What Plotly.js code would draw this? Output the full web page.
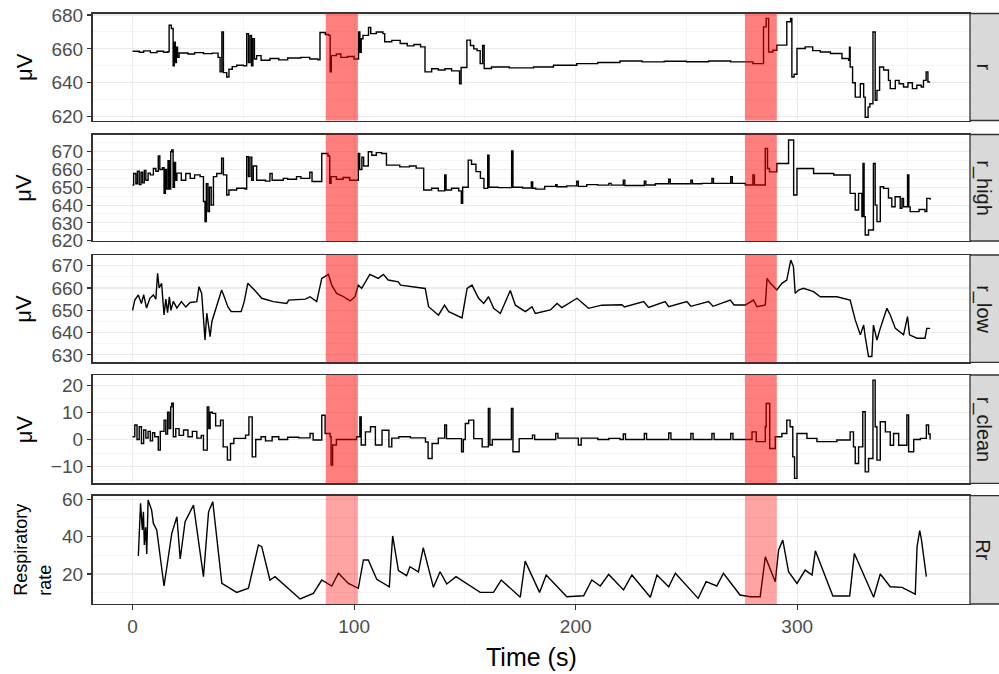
<!DOCTYPE html>
<html>
<head>
<meta charset="utf-8">
<script src="https://cdn.plot.ly/plotly-3.0.1.min.js"></script>
<style>html,body{margin:0;padding:0;background:#fff;}#chart{width:999px;height:674px;}</style>
</head>
<body>
<div id="chart"></div>
<script>
// ---------------- DATA ----------------
const facetLabels = ["r", "r_high", "r_low", "r_clean", "Rr"];
const xTickVals = [0, 100, 200, 300];
const shadeStart = [87.2, 276.4];
const shadeEnd = [101.7, 290.8];

const tR = [0,3,5,8,11,14,16,16.5,17.5,18.3,18.8,19.3,19.8,20.3,21,25,28,32,36,38.6,39.5,40.3,41,42.5,43.5,45,47,50,51.5,52.3,53,53.7,54.3,55,56,58,62,66,70,76,80,83.7,84.6,87,88.5,89.2,89.7,92,94,97,100,102,102.6,103.2,104,106.5,107.5,110,113,113.8,117,120.8,124,127,130,132,135,138,141,144,147.6,148.3,150.9,152.5,154,155.5,156.9,158,158.7,162,170,181,190,200.5,210,220,230,240,250,260,270,276.5,280,284.8,286,287.1,289,290.8,295.3,297,297.6,298.6,299.9,303.6,307,310.4,315,320.2,323.2,323.6,323.9,325,326.2,328.5,330,330.7,332,332.8,334.2,335.2,336,337.2,339,341.2,342,344.3,346,348,350,352,354,356,357,358.2,359,360];
const vR = [658.6,658,658.8,657.8,658.6,658,658.4,674,672,650,664,652,661,655,657.6,657,657.8,657.2,657.5,655,646.4,670,646,643.4,648,649.5,650.3,650,669,652,668,650,666,654,656,653.3,654.3,653.5,654.6,655,654,653.5,669.7,668.5,668,646.4,656,657,655,655.5,654,670,658,666,668,672.7,669,670,669,664.2,665,663.2,661.8,662.6,661.2,646.4,648.3,647.5,648.3,647,639.4,649,665.2,662,660,659,651.3,662,648.4,649.3,648.8,649.3,650.3,651.3,652,652.8,652.3,652.7,652.4,652.8,652.3,652.3,651.3,673,678,658.2,659.2,662.2,676,678,643.4,645,660.2,661.2,659,658.2,657.3,654.3,653.3,661,649.3,640,631.5,639.4,631.5,619.6,625.6,627.6,670,629.6,635.5,649.3,647.5,641.4,636.5,641.4,639.4,637.5,640,636.5,638.5,637.5,641.4,646.4,640.4,640.4];

const tRHigh = [0,0.5,1.5,2.2,3,3.8,4.5,5.3,6,7,8,9.4,10.5,11.6,12.3,13.5,14.2,14.8,15.3,16,16.6,17.2,17.7,18.3,18.9,19.4,20,22,24,26,28,30.5,32,32.7,33.3,34,34.7,35.5,36.5,38,40.2,41,42.5,43.5,47,50.8,51.5,52.3,53,53.8,54.5,56,60,62,63,68,70,74,76,80,81,85.4,88.2,89,89.6,92,95,98,101.9,102.5,103.5,104.3,106.4,108,110,112.4,114.6,120.6,125,128,131.4,135,138,140.9,141.5,144,147.2,148.4,149,151.5,153,155,157,158.6,160.3,160.9,165,171.1,171.7,176,180,180.6,182,186,191,191.6,196,200.5,201.2,205,210,215,216,221.5,222.2,231,231.7,236,242,242.7,252,252.7,257,261.5,262.2,270,270.7,276.6,280,280.7,285.6,286.6,287.5,290.8,296.1,298.4,299.9,307.4,316.5,323.9,326.2,327.7,329.2,329.7,330.2,330.7,332.2,334.4,335.2,336,337.5,339,341.2,342.7,344.2,346.5,347.3,348,349.8,350.4,351,355,357.7,358.5,360];
const vRHigh = [651.3,657.8,652,659,651.5,658.5,652.5,659.5,654,658,657,660.6,659,667.6,660,661,646.6,660,649,665,649,670,671,650,664,654,658,654,657.8,655,657,656,642,630.7,652,636.3,650,640,656,657.8,666.3,657,645.7,648.5,649.5,649,667.2,656,667,654,662,654,653.5,657.8,654,655,654.5,656,655,658.5,653.3,669,667.6,652.2,656,654.5,655.5,654,669,660,667,662,670,668,669.5,669,662.5,661.5,662,660.8,648.5,649.5,648,657,648.5,649.5,648,641,650,665.3,663,658.8,655,649.4,668,650,649.8,670.4,650,649.6,653,649.5,649,650.5,651.5,650.3,650.8,653.5,650.5,651.5,651.2,652.2,651.2,654,651,653.5,651.3,652,654.5,652,654,652,652.2,655,652.2,656,652.2,651.3,657,651.3,671.9,660.6,658.7,663.4,676.6,645.7,660.6,657.8,656.9,646.6,637.2,646.6,633.5,663.4,633.5,623.2,626,663.4,640,630.7,650.3,649.4,644,639.1,644.7,638.2,643.8,639.1,656.9,639,636.3,637.5,636.3,643.8,643];

const tRLow = [0,1,2.6,4,5,6.3,7.8,9.4,10.5,11.3,12,13.1,14.2,15,15.8,16.6,17.3,18.4,20,22,24,26,29,30,31.2,32.7,33.5,35,35.8,36.5,38,39,40.2,41.2,43,44.5,49,50.4,52,55,58.3,63.5,69.6,70.5,78,80.1,83.1,85.4,88.4,89.9,92.1,95.2,98.2,100.4,101.9,103.4,107.1,110.9,113.2,115.4,119.9,121,127.6,132.1,133.6,138.1,140.8,142.7,148.7,151,153.2,156.2,158.5,160.7,163,166,170.5,172.8,177.3,180.3,181.8,188.6,191.6,193.8,200.6,205.8,211.8,220.9,222,230.7,232.9,240.4,242,250.2,252,260,262,269.8,271.5,276.6,280.3,281.8,285.6,286.4,287.9,290.8,293.1,295.3,297.1,298.3,299.1,300.6,302.8,307.4,310.4,317.9,323.9,326.2,328.5,330,330.7,332.2,333.7,334.4,336,337.5,340.5,342,344.3,348,349.8,350.7,354,357.7,358.5,360];
const vRLow = [650,654.6,656.9,653,657,651,655.4,656.9,655,666.6,660,662.1,647.9,655,649,656,650,654,651,653.9,651.5,653.5,653.9,660.6,657.6,636.7,648.7,638.2,645,647.2,651.6,655.4,659.1,656.5,651.6,649.4,649.4,653.9,662.1,659.1,655.4,653.9,653.1,654.6,655,656.1,653.9,664.3,666.1,661.3,657.6,656.1,654.2,656.1,661.3,659.8,666.1,664.3,666.1,663.6,662.8,661.3,660.6,659.8,651.6,647.8,652.3,649.4,646.6,659.8,661.3,655.4,653.1,656.1,650.9,648.6,658.9,652.3,649.4,651.6,648.6,650.2,653.1,651.2,655.4,650.9,652.3,652.5,651.5,653.9,651.3,653.9,651.6,653.9,651.8,653.9,651.8,654.6,652.4,652.4,654.6,651.6,652.4,664.3,662.1,659.1,662.1,663.6,672.5,669.6,657.6,659.1,659.9,658.4,656.1,656.1,654.6,645.7,639,643.4,638.2,629.3,629.3,643.4,636.7,641.9,650.9,647.9,641.9,639,647.2,639,637.5,637.5,641.9,641.9];

const tRClean = [0,1,2,3,4,5,6,7,8,9,10,11.6,12.5,14.2,15,15.8,16.5,17.2,17.7,18.4,19.5,21,23,25,27,29,31,32,33.7,34.4,35,36,37.5,39.7,40.9,42.8,44.2,45.7,51,52.5,54,55.6,58,60,63,66,70,75,80.1,81.5,85.4,86.9,89.2,89.6,90.3,92,101.1,102.6,103.2,105.1,107.4,109.6,112.6,115.7,117,120.2,125.4,132.2,133.4,135.2,138,140.9,141.7,148.5,149.3,150.2,151.7,154,157.8,160.6,161.3,162.4,171,171.7,174.5,180.5,181.5,191,192,201.2,202.5,210,215,220,221.5,222.5,231,232,242,243,252,253,261.5,262.5,270,271,276.6,279.6,281.5,285.6,286,287.6,290.1,293.1,295.3,296.8,298,298.8,299.9,304.4,308.9,317.9,323.9,325.4,326.2,327.7,329.6,330.7,332.2,334.2,335.2,336,337.5,339.8,342,343.5,345.8,349.5,350.3,352.6,355.6,358.3,359.3,360];
const vRClean = [1,5.3,0,4.7,-1.5,3.5,0.5,3,-0.5,2.5,1,-3.9,3,7.1,2,10,4,12,13.3,1,4,1.5,3.5,1,3,0.5,1.5,-3.9,12,4,10,9.6,5,7.1,-2.7,-7.6,-1.5,0.4,1.6,8.3,-6.4,0,1,-0.5,1,0,0.8,0.6,2.2,-0.2,8.9,2.2,1,-9.4,-2,0,1,8.3,-2,2.8,4.7,-2,3.4,-2.7,0.5,1,0.6,-0.9,-7,-1.5,0.5,5.3,0.3,-4.5,0,5.9,7.1,0.3,-2.7,11.4,-2,0,11.4,-4.5,0.3,1.6,0,2.2,0.5,-2,0.5,0,0.4,0,2,0,2.2,0,2.4,0,2.2,0,2.2,0,2.2,0,0,2.8,-0.8,4.7,13.2,-3.3,1,2.2,7.1,4.7,-6.4,-14.3,2.2,0.4,-0.8,-0.2,2.8,-2.7,-8.8,-2.7,10.2,-11.9,-7,21.8,4.7,-7.6,6.5,2.8,-2.1,2.2,-2.1,9,-4.5,0,0.4,5.3,2,0];

const tRr = [2.6,3.6,4.4,4.9,5.3,5.9,6.4,7,8.6,9.4,10.9,14.2,17.7,20,21.5,23.7,27.5,32,34.3,36.2,40.3,47,52.3,56.8,58.3,62,64.3,75.6,81.6,85.4,89.9,92.9,97.4,101.9,104.2,106.4,110.2,115.9,116.5,117.4,120,123.7,125.2,129,131.2,135.8,138.8,141.8,146,156.9,162.9,166.4,175,177.2,183.7,186.7,196,203.6,207.3,211.1,214.9,221.6,225.4,233.7,236.7,242,245,255.3,258.9,263.7,266.7,274.2,278.8,283.3,285.6,290.1,291.6,293.5,296.1,299.9,303.6,306.7,308.2,316.1,323.7,325.8,334.5,337.5,342,347.3,353.3,354.1,355.3,356,358.3];
const vRr = [29.6,57.7,43.5,53.2,35.5,45,30.7,59.5,54.1,47,43.5,13.6,41.7,50.6,28,47.9,56.8,18.6,53.2,58.6,15,10.2,12.4,35.5,34.6,16.8,18.6,6.7,9.7,16.8,13.6,20.4,15,12.4,27.5,27.5,17.2,13.2,24.8,40.3,21.8,19.1,23.9,21.2,34,12.9,21.2,14.7,18.6,10.2,10.2,16.8,7.6,26.9,10.2,19.5,7.9,8.4,16.8,13.6,19.8,11.5,19.5,7.6,19.5,13.2,20.4,7,15.9,13.6,20.4,8.8,7.9,7.9,29.2,15.9,32.8,38.1,21.2,15,22.1,19.5,32.4,8.3,8.3,31,7.6,20,13.2,12.9,9.3,34.6,43.1,39,18.6];

const yTickVals = [[620,640,660,680],[620,630,640,650,660,670],[630,640,650,660,670],[-10,0,10,20],[20,40,60]];
const yMinorVals = [[630,650,670],[625,635,645,655,665,675],[635,645,655,665],[-15,-5,5,15],[10,30,50]];
const yRanges = [[617.7,680.9],[619.8,679.7],[626.7,674.8],[-16.1,23.7],[4,61.8]];
const yTitles = ["μV","μV","μV","μV","Respiratory<br>rate"];

// ---------------- LAYOUT ----------------
const W = 999, H = 674;
const xLeftPx = 92.7, xRightPx = 970;
const panelPx = [[13.5,120.5],[134.5,241],[255,362.3],[375,483.3],[495.7,604]];
const FONT = "Liberation Sans, Arial, sans-serif";
const xDom = [xLeftPx / W, xRightPx / W];

const series = [[tR, vR, 'hv'], [tRHigh, vRHigh, 'hv'], [tRLow, vRLow, 'linear'], [tRClean, vRClean, 'hv'], [tRr, vRr, 'linear']];

const traces = series.map((s, i) => ({
  x: s[0], y: s[1], type: 'scatter', mode: 'lines',
  line: {color: '#000000', width: 1.4, shape: s[2]},
  xaxis: i === 0 ? 'x' : 'x' + (i + 1),
  yaxis: i === 0 ? 'y' : 'y' + (i + 1),
  hoverinfo: 'skip', showlegend: false
}));

const layout = {
  width: W, height: H,
  margin: {l: 0, r: 0, t: 0, b: 0},
  paper_bgcolor: '#ffffff', plot_bgcolor: '#ffffff',
  font: {family: FONT, color: '#4D4D4D'},
  showlegend: false,
  shapes: [], annotations: []
};

for (let i = 0; i < 5; i++) {
  const sfx = i === 0 ? '' : String(i + 1);
  const top = panelPx[i][0], bot = panelPx[i][1];
  const yDom = [1 - bot / H, 1 - top / H];
  const isBottom = i === 4;
  const xa = {
    domain: xDom, range: [-18, 378], anchor: 'y' + sfx,
    tickvals: xTickVals, showticklabels: isBottom,
    ticks: isBottom ? 'outside' : '', ticklen: 4.5, tickwidth: 1.1, tickcolor: '#333333',
    tickfont: {size: 19, color: '#4D4D4D', family: FONT},
    showgrid: true, gridcolor: '#EBEBEB', gridwidth: 1.1,
    minor: {dtick: 50, tick0: 50, showgrid: true, gridcolor: '#EBEBEB', gridwidth: 0.55, ticks: ''},
    showline: true, mirror: true, linecolor: '#333333', linewidth: 1.3,
    zeroline: false, automargin: false, fixedrange: true
  };
  if (i > 0) xa.matches = 'x';
  layout['xaxis' + sfx] = xa;
  layout['yaxis' + sfx] = {
    domain: yDom, range: yRanges[i], anchor: 'x' + sfx,
    tickvals: yTickVals[i], ticks: 'outside', ticklen: 4.5, tickwidth: 1.1, tickcolor: '#333333',
    tickfont: {size: 19, color: '#4D4D4D', family: FONT},
    showgrid: true, gridcolor: '#EBEBEB', gridwidth: 1.1,
    minor: {tickvals: yMinorVals[i], showgrid: true, gridcolor: '#EBEBEB', gridwidth: 0.55, ticks: ''},
    showline: true, mirror: true, linecolor: '#333333', linewidth: 1.3,
    zeroline: false, automargin: false, fixedrange: true
  };
  // red shaded windows
  for (let k = 0; k < shadeStart.length; k++) {
    layout.shapes.push({
      type: 'rect', xref: 'x' + sfx, yref: 'y' + sfx + ' domain',
      x0: shadeStart[k], x1: shadeEnd[k], y0: 0, y1: 1,
      fillcolor: i === 4 ? 'rgba(255,0,0,0.36)' : 'rgba(255,0,0,0.5)',
      line: {width: 0}, layer: 'above'
    });
  }
  // facet strip
  layout.shapes.push({
    type: 'rect', xref: 'paper', yref: 'paper',
    x0: xRightPx / W, x1: 1.02, y0: yDom[0], y1: yDom[1],
    fillcolor: '#D9D9D9', line: {color: '#333333', width: 1.3}, layer: 'above'
  });
  layout.annotations.push({
    xref: 'paper', yref: 'paper', x: 983.5 / W, y: (yDom[0] + yDom[1]) / 2,
    text: facetLabels[i], textangle: 90, showarrow: false,
    font: {size: 20, color: '#1A1A1A', family: FONT},
    xanchor: 'center', yanchor: 'middle'
  });
  // y title
  const isRr = i === 4;
  layout.annotations.push({
    xref: 'paper', yref: 'paper', x: (isRr ? 33 : 24) / W, y: (yDom[0] + yDom[1]) / 2,
    text: yTitles[i], textangle: -90, showarrow: false, align: 'left',
    font: {size: isRr ? 18 : 22, color: '#000000', family: FONT},
    xanchor: 'center', yanchor: 'middle'
  });
}

layout.annotations.push({
  xref: 'paper', yref: 'paper', x: (xLeftPx + xRightPx) / 2 / W, y: 1 - 657 / H,
  text: 'Time (s)', showarrow: false,
  font: {size: 25, color: '#000000', family: FONT},
  xanchor: 'center', yanchor: 'middle'
});

Plotly.newPlot('chart', traces, layout, {displayModeBar: false, staticPlot: true});
</script>
</body>
</html>
